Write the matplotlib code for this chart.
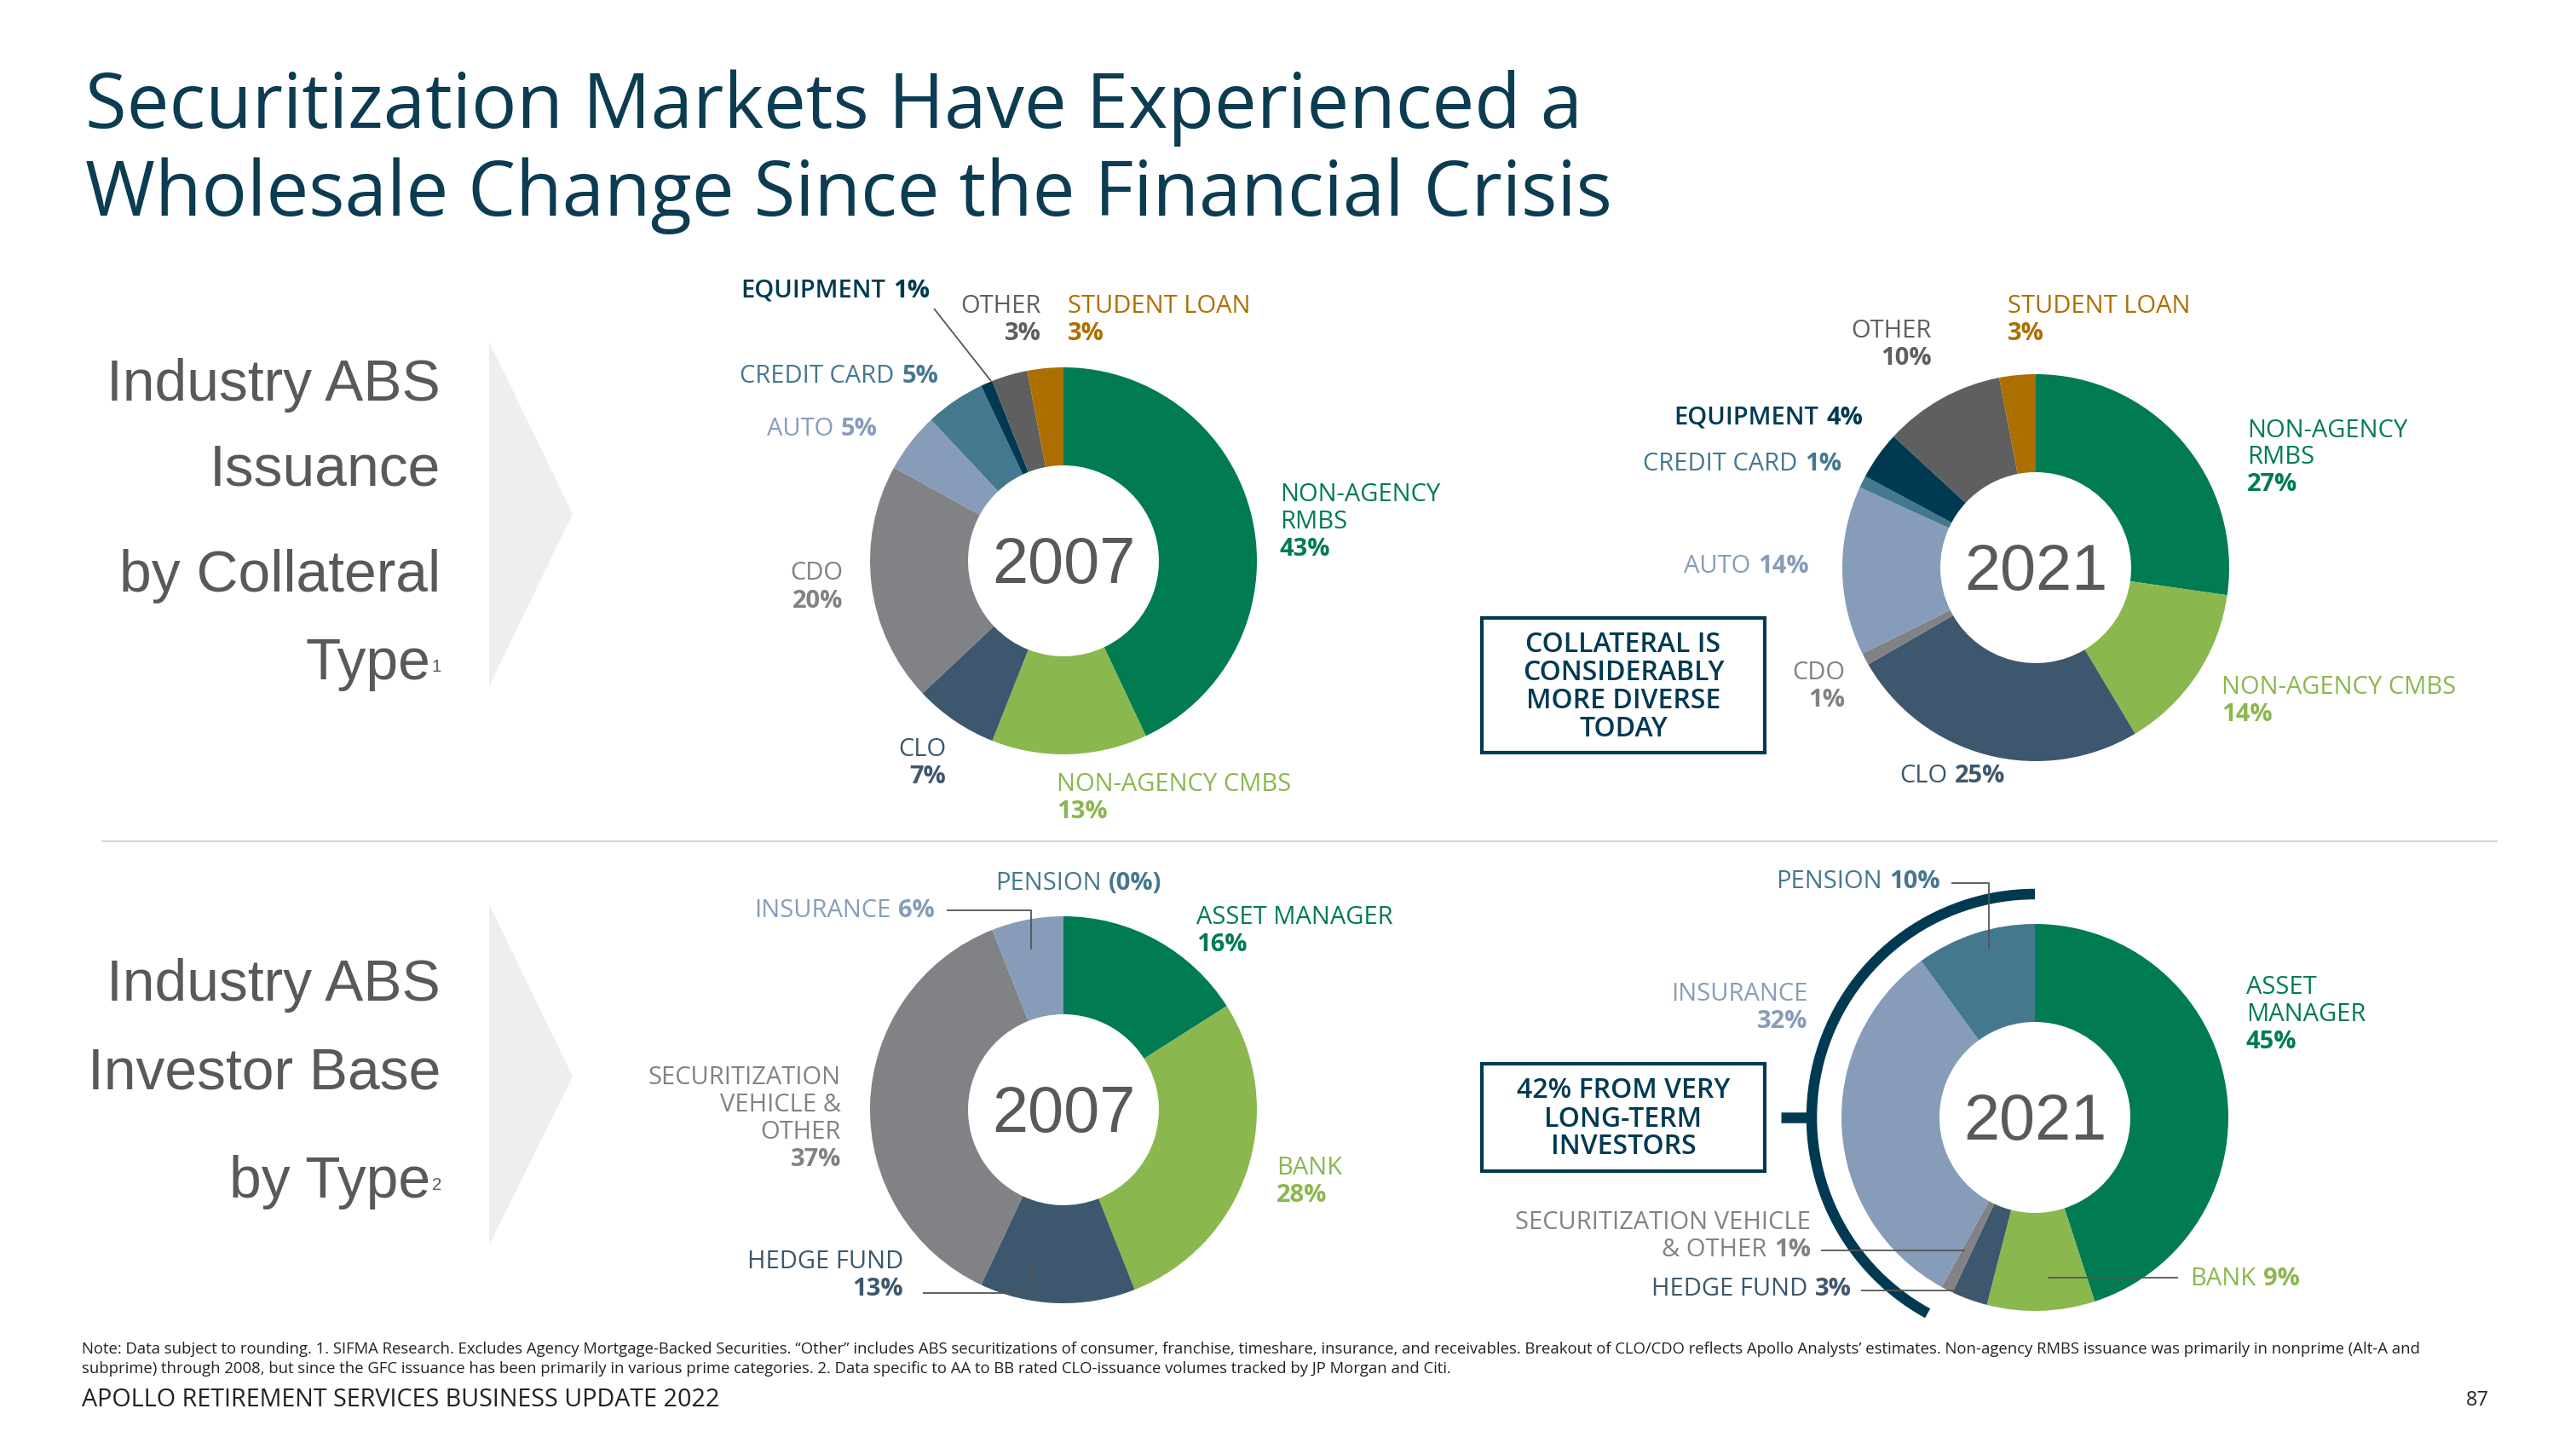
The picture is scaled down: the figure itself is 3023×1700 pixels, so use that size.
import matplotlib
matplotlib.use('Agg')
import matplotlib.pyplot as plt
from matplotlib.patches import Polygon, Arc, Rectangle

# ---------------- data ----------------
collateral_cats = ['NON-AGENCY RMBS', 'NON-AGENCY CMBS', 'CLO', 'CDO', 'AUTO',
                   'CREDIT CARD', 'EQUIPMENT', 'OTHER', 'STUDENT LOAN']
collateral_2007 = [43, 13, 7, 20, 5, 5, 1, 3, 3]
collateral_2021 = [27, 14, 25, 1, 14, 1, 4, 10, 3]

investor_cats = ['ASSET MANAGER', 'BANK', 'HEDGE FUND',
                 'SECURITIZATION VEHICLE & OTHER', 'INSURANCE', 'PENSION']
investor_2007 = [16, 28, 13, 37, 6, 0]
investor_2021 = [45, 9, 3, 1, 32, 10]

years = ['2007', '2021']

title_lines = ['Securitization Markets Have Experienced a',
               'Wholesale Change Since the Financial Crisis']
section_top = ['Industry ABS', 'Issuance', 'by Collateral', 'Type']
section_bot = ['Industry ABS', 'Investor Base', 'by Type']
box_top = ['COLLATERAL IS', 'CONSIDERABLY', 'MORE DIVERSE', 'TODAY']
box_bot = ['42% FROM VERY', 'LONG-TERM', 'INVESTORS']
footnote = ["Note: Data subject to rounding. 1. SIFMA Research. Excludes Agency Mortgage-Backed Securities. \u201cOther\u201d includes ABS securitizations of consumer, franchise, timeshare, insurance, and receivables. Breakout of CLO/CDO reflects Apollo Analysts\u2019 estimates. Non-agency RMBS issuance was primarily in nonprime (Alt-A and",
            "subprime) through 2008, but since the GFC issuance has been primarily in various prime categories. 2. Data specific to AA to BB rated CLO-issuance volumes tracked by JP Morgan and Citi."]
footer = 'APOLLO RETIREMENT SERVICES BUSINESS UPDATE 2022'
page_no = '87'

# ---------------- styles ----------------
C_GREEN = '#007b52'
C_LGREEN = '#8bb74f'
C_SLATE = '#3d576e'
C_GREY = '#808285'
C_BLUEGREY = '#879cb8'
C_TEAL = '#44788f'
C_NAVY = '#003a52'
C_DGREY = '#5f5f5f'
C_GOLD = '#ad6f00'
coll_colors = [C_GREEN, C_LGREEN, C_SLATE, C_GREY, C_BLUEGREY, C_TEAL, C_NAVY, C_DGREY, C_GOLD]
inv_colors = [C_GREEN, C_LGREEN, C_SLATE, C_GREY, C_BLUEGREY, C_TEAL]
TITLE_C = '#0b3c52'
SEC_C = '#595959'

FONT = ['Open Sans', 'DejaVu Sans']
NARROW = ['Liberation Sans Narrow', 'DejaVu Sans Condensed', 'Liberation Sans', 'DejaVu Sans']
FS = 21
LS = 32

W, H = 3023, 1700
fig = plt.figure(figsize=(W / 100, H / 100), dpi=100)
ax = fig.add_axes([0, 0, 1, 1])
R = fig.canvas.get_renderer()


def tw(t):
    return t.get_window_extent(R).width


def fit(t, target):
    t.set_fontsize(t.get_fontsize() * target / tw(t))
    return t


def put(x, y, s, color, ha, weight='normal', fs=FS, family=FONT, va='center'):
    return ax.text(x, y, s, color=color, ha=ha, va=va, fontsize=fs,
                   fontweight=weight, family=family)


def label(x, y, name_lines, pct, color, ha, inline=False, weight='normal'):
    n = len(name_lines)
    body = name_lines[:-1] if inline else name_lines
    for i, ln in enumerate(body):
        put(x, y + i * LS, ln, color, ha, weight)
    if inline:
        yy = y + (n - 1) * LS
        gap = 0.3 * FS * 100 / 72
        if ha == 'right':
            tp = put(x, yy, pct, color, 'right', 'bold')
            put(x - tw(tp) - gap, yy, name_lines[-1], color, 'right', weight)
        else:
            tn = put(x, yy, name_lines[-1], color, 'left', weight)
            put(x + tw(tn) + gap, yy, pct, color, 'left', 'bold')
    else:
        put(x, y + n * LS, pct, color, ha, 'bold')


def donut(cx, cy, vals, colors):
    ax.pie(vals, colors=colors, startangle=270, counterclock=True, radius=227,
           center=(cx, cy), wedgeprops=dict(width=115, linewidth=0),
           frame=True, normalize=True)


def leader(pts):
    xs, ys = zip(*pts)
    ax.plot(xs, ys, color='#555555', lw=1.3, solid_capstyle='butt')


pc = lambda v: f'{v}%'

# ---------------- title ----------------
t1 = ax.text(100, 150, title_lines[0], color=TITLE_C, fontsize=60, family=FONT, va='baseline')
fit(t1, 1755)
ax.text(100, 253, title_lines[1], color=TITLE_C, fontsize=t1.get_fontsize(), family=FONT, va='baseline')

# ---------------- section labels + chevrons ----------------
s0 = ax.text(517, 470, section_top[0], color=SEC_C, fontsize=60, family=NARROW, ha='right', va='baseline')
fit(s0, 392)
SFS = s0.get_fontsize()
ax.text(517, 569, section_top[1], color=SEC_C, fontsize=SFS, family=NARROW, ha='right', va='baseline')
ax.text(517, 694, section_top[2], color=SEC_C, fontsize=SFS, family=NARROW, ha='right', va='baseline')
ax.text(505, 797, section_top[3], color=SEC_C, fontsize=SFS, family=NARROW, ha='right', va='baseline')
ax.text(507, 788, '1', color=SEC_C, fontsize=SFS * 0.3, family=NARROW, ha='left', va='baseline')

ax.text(517, 1174, section_bot[0], color=SEC_C, fontsize=SFS, family=NARROW, ha='right', va='baseline')
ax.text(517, 1277, section_bot[1], color=SEC_C, fontsize=SFS, family=NARROW, ha='right', va='baseline')
ax.text(505, 1405, section_bot[2], color=SEC_C, fontsize=SFS, family=NARROW, ha='right', va='baseline')
ax.text(507, 1396, '2', color=SEC_C, fontsize=SFS * 0.3, family=NARROW, ha='left', va='baseline')

ax.add_patch(Polygon([(574, 401), (672, 603), (574, 805)], closed=True, fc='#efeeec', ec='none'))
ax.add_patch(Polygon([(574, 1061), (672, 1263), (574, 1461)], closed=True, fc='#efeeec', ec='none'))

# divider
ax.plot([120, 2930], [987, 987], color='#d6d6d6', lw=1.6)

# ---------------- donuts ----------------
centers = [(1248, 658), (2389, 666), (1248, 1302), (2388, 1311)]
donut(*centers[0], collateral_2007, coll_colors)
donut(*centers[1], collateral_2021, coll_colors)
donut(*centers[2], investor_2007, inv_colors)
donut(*centers[3], investor_2021, inv_colors)

for (cx, cy), yr in zip(centers, [years[0], years[1], years[0], years[1]]):
    t = ax.text(cx, cy + 26, yr, color=SEC_C, fontsize=70, family=NARROW, ha='center', va='baseline')
    fit(t, 168)

# ---------------- top 2007 labels ----------------
a = collateral_2007
label(1502, 580, ['NON-AGENCY', 'RMBS'], pc(a[0]), C_GREEN, 'left')
label(1240, 920, ['NON-AGENCY CMBS'], pc(a[1]), C_LGREEN, 'left')
label(1110, 879, ['CLO'], pc(a[2]), C_SLATE, 'right')
label(989, 673, ['CDO'], pc(a[3]), C_GREY, 'right')
label(1030, 503, ['AUTO'], pc(a[4]), C_BLUEGREY, 'right', inline=True)
label(1101, 441, ['CREDIT CARD'], pc(a[5]), C_TEAL, 'right', inline=True)
label(1091, 341, ['EQUIPMENT'], pc(a[6]), C_NAVY, 'right', inline=True, weight='semibold')
label(1222, 359, ['OTHER'], pc(a[7]), C_DGREY, 'right')
label(1253, 359, ['STUDENT LOAN'], pc(a[8]), C_GOLD, 'left')
leader([(1096, 362), (1163, 447)])

# ---------------- top 2021 labels ----------------
b = collateral_2021
label(2637, 505, ['NON-AGENCY', 'RMBS'], pc(b[0]), C_GREEN, 'left')
label(2607, 806, ['NON-AGENCY CMBS'], pc(b[1]), C_LGREEN, 'left')
label(2229, 910, ['CLO'], pc(b[2]), C_SLATE, 'left', inline=True)
label(2165, 789, ['CDO'], pc(b[3]), C_GREY, 'right')
label(2123, 665, ['AUTO'], pc(b[4]), C_BLUEGREY, 'right', inline=True)
label(2161, 544, ['CREDIT CARD'], pc(b[5]), C_TEAL, 'right', inline=True)
label(2186, 490, ['EQUIPMENT'], pc(b[6]), C_NAVY, 'right', inline=True, weight='semibold')
label(2267, 388, ['OTHER'], pc(b[7]), C_DGREY, 'right')
label(2356, 359, ['STUDENT LOAN'], pc(b[8]), C_GOLD, 'left')

ax.add_patch(Rectangle((1739, 725), 332, 158, fill=False, ec=C_NAVY, lw=3))
for i, ln in enumerate(box_top):
    put(1905, 756 + i * 33, ln, C_NAVY, 'center', 'semibold', fs=23)

# ---------------- bottom 2007 labels ----------------
c = investor_2007
label(1404, 1076, ['ASSET MANAGER'], pc(c[0]), C_GREEN, 'left')
label(1498, 1371, ['BANK'], pc(c[1]), C_LGREEN, 'left')
label(1060, 1481, ['HEDGE FUND'], pc(c[2]), C_SLATE, 'right')
label(987, 1265, ['SECURITIZATION', 'VEHICLE &', 'OTHER'], pc(c[3]), C_GREY, 'right')
label(1097, 1068, ['INSURANCE'], pc(c[4]), C_BLUEGREY, 'right', inline=True)
label(1168, 1037, ['PENSION'], '(' + pc(c[5]) + ')', C_TEAL, 'left', inline=True)
leader([(1111, 1068), (1210, 1068), (1210, 1114)])
leader([(1083, 1517), (1210, 1517), (1210, 1477)])

# ---------------- bottom 2021 labels ----------------
d = investor_2021
label(2636, 1159, ['ASSET', 'MANAGER'], pc(d[0]), C_GREEN, 'left')
label(2570, 1500, ['BANK'], pc(d[1]), C_LGREEN, 'left', inline=True)
label(2173, 1513, ['HEDGE FUND'], pc(d[2]), C_SLATE, 'right', inline=True)
label(2125, 1434, ['SECURITIZATION VEHICLE', '& OTHER'], pc(d[3]), C_GREY, 'right', inline=True)
label(2121, 1166, ['INSURANCE'], pc(d[4]), C_BLUEGREY, 'right')
label(2277, 1035, ['PENSION'], pc(d[5]), C_TEAL, 'right', inline=True)
leader([(2290, 1036), (2334, 1036), (2334, 1114)])
leader([(2137, 1467), (2306, 1467)])
leader([(2184, 1514), (2323, 1514)])
leader([(2403, 1499), (2556, 1499)])

# bracket arc around long-term investors
cx, cy = centers[3]
ax.add_patch(Arc((cx, cy), 2 * 262, 2 * 262, theta1=118.7, theta2=270,
                 color=C_NAVY, lw=9, capstyle='butt'))
ax.plot([2090, 2127], [cy, cy], color=C_NAVY, lw=9, solid_capstyle='butt')

ax.add_patch(Rectangle((1739, 1248), 332, 126, fill=False, ec=C_NAVY, lw=3))
for i, ln in enumerate(box_bot):
    put(1905, 1280 + i * 33, ln, C_NAVY, 'center', 'semibold', fs=23)

# ---------------- footnote / footer ----------------
f1 = ax.text(96, 1583, footnote[0], color='#222222', fontsize=12, family=FONT, va='center')
fit(f1, 2736)
ax.text(96, 1606, footnote[1], color='#222222', fontsize=f1.get_fontsize(), family=FONT, va='center')
ft = ax.text(96, 1643, footer, color='#222222', fontsize=16, family=FONT, va='center')
fit(ft, 749)
ax.text(2921, 1643, page_no, color='#222222', fontsize=17, family=FONT, va='center', ha='right')

ax.set_xlim(0, W)
ax.set_ylim(H, 0)
ax.set_aspect('equal')
ax.axis('off')
fig.savefig('out.png', dpi=100, facecolor='white')
